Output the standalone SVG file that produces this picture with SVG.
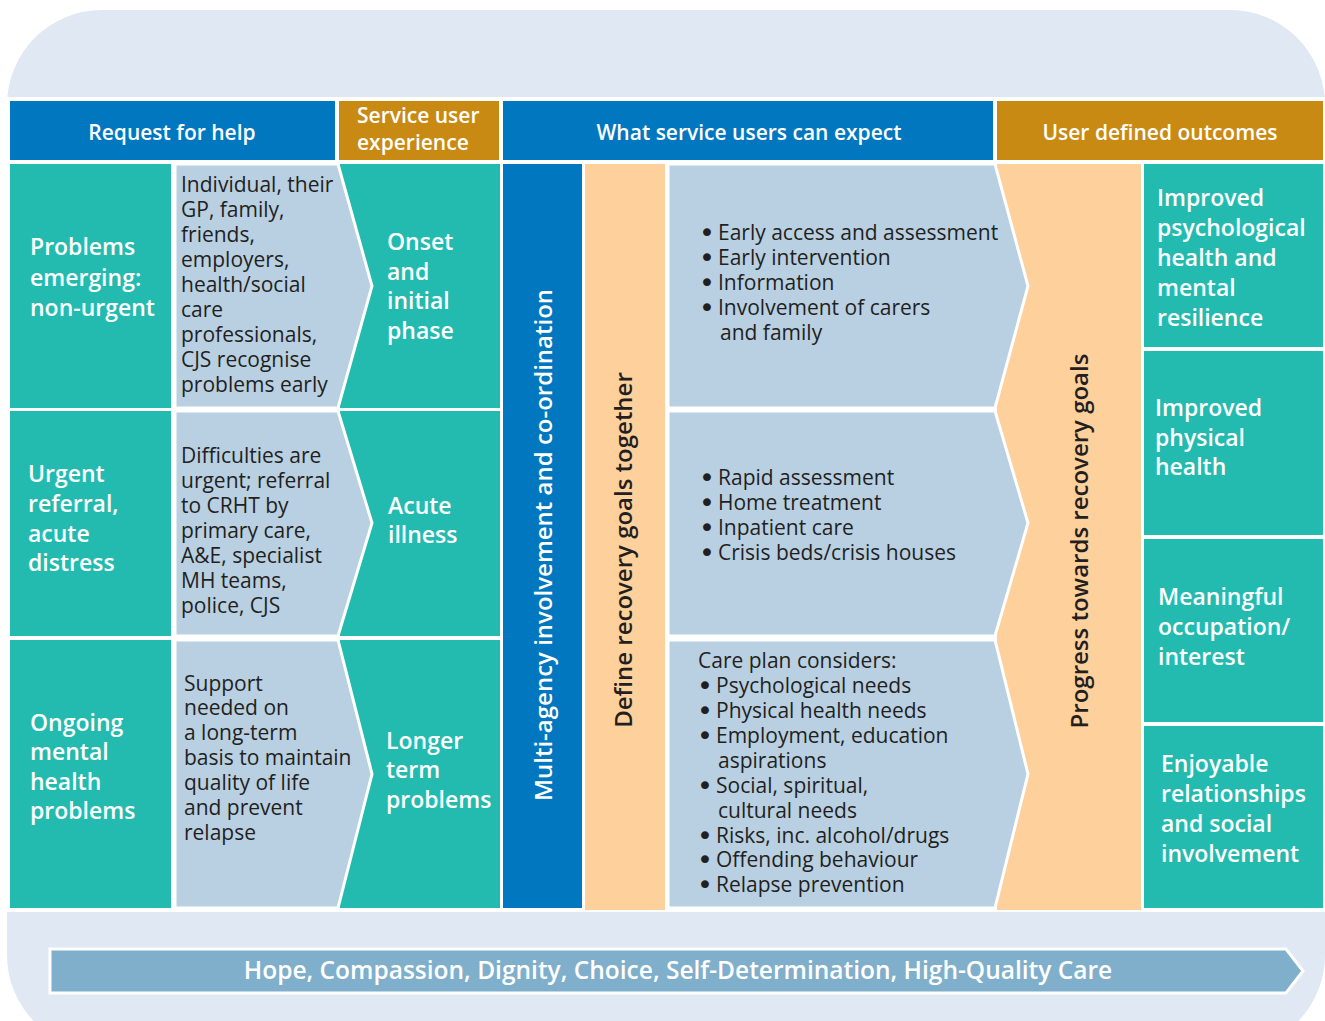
<svg xmlns="http://www.w3.org/2000/svg" width="1325" height="1021" viewBox="0 0 1325 1021">
<style>
.teal{fill:#23bbb0}
.blue{fill:#0077bf}
.gold{fill:#c98a14}
.lb{fill:#b8d0e2;stroke:#fff;stroke-width:3}
.peach{fill:#fdd09c}
.hd{font-family:"Open Sans","Noto Sans",sans-serif;font-weight:600;font-size:21px;fill:#fff}
.wt{font-family:"Open Sans","Noto Sans",sans-serif;font-weight:600;font-size:23px;fill:#fff}
.dt{font-family:"Open Sans","Noto Sans",sans-serif;font-weight:400;font-size:21px;fill:#231f20}
.bu{font-family:"DejaVu Sans",sans-serif;font-size:27px}
.vt{font-family:"Open Sans","Noto Sans",sans-serif;font-weight:600;font-size:24px}
.bn{font-family:"Open Sans","Noto Sans",sans-serif;font-weight:600;font-size:24.5px;fill:#fff}
</style>
<rect x="7" y="10" width="1318" height="1040" rx="95" fill="#e0e8f4"/>
<rect x="7" y="97" width="1318" height="815" fill="#fff"/>

<g id="headers">
<g id="h-request"><rect class="blue" x="10" y="101" width="325" height="59"/><text class="hd" x="172" y="140" text-anchor="middle">Request for help</text></g>
<g id="h-experience"><rect class="gold" x="339" y="101" width="160" height="59"/><text class="hd" x="357" y="123">Service user</text><text class="hd" x="357" y="150">experience</text></g>
<g id="h-expect"><rect class="blue" x="503" y="101" width="490" height="59"/><text class="hd" x="749" y="140" text-anchor="middle">What service users can expect</text></g>
<g id="h-outcomes"><rect class="gold" x="997" y="101" width="326" height="59"/><text class="hd" x="1160" y="140" text-anchor="middle">User defined outcomes</text></g>
</g>

<g id="col1">
<g id="c1r1"><rect class="teal" x="10" y="164" width="161" height="244"/><text class="wt"><tspan x="30" y="255">Problems</tspan><tspan x="30" y="286">emerging:</tspan><tspan x="30" y="316">non-urgent</tspan></text></g>
<g id="c1r2"><rect class="teal" x="10" y="411" width="161" height="225"/><text class="wt"><tspan x="28" y="482">Urgent</tspan><tspan x="28" y="512">referral,</tspan><tspan x="28" y="542">acute</tspan><tspan x="28" y="571">distress</tspan></text></g>
<g id="c1r3"><rect class="teal" x="10" y="640" width="161" height="268"/><text class="wt"><tspan x="30" y="731">Ongoing</tspan><tspan x="30" y="760">mental</tspan><tspan x="30" y="790">health</tspan><tspan x="30" y="819">problems</tspan></text></g>
</g>

<g id="col3">
<g id="c3r1"><rect class="teal" x="340" y="164" width="160" height="244"/><text class="wt"><tspan x="387" y="250">Onset</tspan><tspan x="387" y="280">and</tspan><tspan x="387" y="309">initial</tspan><tspan x="387" y="339">phase</tspan></text></g>
<g id="c3r2"><rect class="teal" x="340" y="411" width="160" height="225"/><text class="wt"><tspan x="388" y="514">Acute</tspan><tspan x="388" y="543">illness</tspan></text></g>
<g id="c3r3"><rect class="teal" x="340" y="640" width="160" height="268"/><text class="wt"><tspan x="386" y="749">Longer</tspan><tspan x="386" y="778">term</tspan><tspan x="386" y="808">problems</tspan></text></g>
</g>

<g id="col2">
<g id="c2r1"><polygon class="lb" points="175,164 338,164 372,286 338,408 175,408"/><text class="dt"><tspan x="181" y="192">Individual, their</tspan><tspan x="181" y="217">GP, family,</tspan><tspan x="181" y="242">friends,</tspan><tspan x="181" y="267">employers,</tspan><tspan x="181" y="292">health/social</tspan><tspan x="181" y="317">care</tspan><tspan x="181" y="342">professionals,</tspan><tspan x="181" y="367">CJS recognise</tspan><tspan x="181" y="392">problems early</tspan></text></g>
<g id="c2r2"><polygon class="lb" points="175,411 338,411 372,523 338,636 175,636"/><text class="dt"><tspan x="181" y="463">Difficulties are</tspan><tspan x="181" y="488">urgent; referral</tspan><tspan x="181" y="513">to CRHT by</tspan><tspan x="181" y="538">primary care,</tspan><tspan x="181" y="563">A&amp;E, specialist</tspan><tspan x="181" y="588">MH teams,</tspan><tspan x="181" y="613">police, CJS</tspan></text></g>
<g id="c2r3"><polygon class="lb" points="175,640 338,640 372,774 338,908 175,908"/><text class="dt"><tspan x="184" y="691">Support</tspan><tspan x="184" y="715">needed on</tspan><tspan x="184" y="740">a long-term</tspan><tspan x="184" y="765">basis to maintain</tspan><tspan x="184" y="790">quality of life</tspan><tspan x="184" y="815">and prevent</tspan><tspan x="184" y="840">relapse</tspan></text></g>
</g>

<g id="multi"><rect class="blue" x="503" y="164" width="79" height="744"/><text class="vt" fill="#fff" transform="translate(552,545) rotate(-90)" text-anchor="middle">Multi-agency involvement and co-ordination</text></g>
<g id="define"><rect class="peach" x="585" y="164" width="80" height="746"/><text class="vt" fill="#231f20" transform="translate(632,550) rotate(-90)" text-anchor="middle">Define recovery goals together</text></g>

<g id="progress"><rect class="peach" x="997" y="164" width="144" height="746"/><text class="vt" fill="#231f20" transform="translate(1088,541) rotate(-90)" text-anchor="middle">Progress towards recovery goals</text></g>

<g id="col6">
<g id="c6r1"><polygon class="lb" points="668,164 995,164 1028,286 995,408 668,408"/><text class="dt"><tspan class="bu" x="699" y="242">•</tspan><tspan x="718" y="240">Early access and assessment</tspan><tspan class="bu" x="699" y="267">•</tspan><tspan x="718" y="265">Early intervention</tspan><tspan class="bu" x="699" y="292">•</tspan><tspan x="718" y="290">Information</tspan><tspan class="bu" x="699" y="317">•</tspan><tspan x="718" y="315">Involvement of carers</tspan><tspan x="720" y="340">and family</tspan></text></g>
<g id="c6r2"><polygon class="lb" points="668,411 995,411 1028,523 995,636 668,636"/><text class="dt"><tspan class="bu" x="699" y="487">•</tspan><tspan x="718" y="485">Rapid assessment</tspan><tspan class="bu" x="699" y="512">•</tspan><tspan x="718" y="510">Home treatment</tspan><tspan class="bu" x="699" y="537">•</tspan><tspan x="718" y="535">Inpatient care</tspan><tspan class="bu" x="699" y="562">•</tspan><tspan x="718" y="560">Crisis beds/crisis houses</tspan></text></g>
<g id="c6r3"><polygon class="lb" points="668,640 995,640 1028,774 995,908 668,908"/><text class="dt"><tspan x="698" y="668">Care plan considers:</tspan><tspan class="bu" x="697" y="695">•</tspan><tspan x="716" y="693">Psychological needs</tspan><tspan class="bu" x="697" y="720">•</tspan><tspan x="716" y="718">Physical health needs</tspan><tspan class="bu" x="697" y="745">•</tspan><tspan x="716" y="743">Employment, education</tspan><tspan x="718" y="768">aspirations</tspan><tspan class="bu" x="697" y="795">•</tspan><tspan x="716" y="793">Social, spiritual,</tspan><tspan x="718" y="818">cultural needs</tspan><tspan class="bu" x="697" y="845">•</tspan><tspan x="716" y="843">Risks, inc. alcohol/drugs</tspan><tspan class="bu" x="697" y="869">•</tspan><tspan x="716" y="867">Offending behaviour</tspan><tspan class="bu" x="697" y="894">•</tspan><tspan x="716" y="892">Relapse prevention</tspan></text></g>
</g>

<g id="col8">
<g id="o1"><rect class="teal" x="1144" y="164" width="179" height="183"/><text class="wt"><tspan x="1157" y="206">Improved</tspan><tspan x="1157" y="236">psychological</tspan><tspan x="1157" y="266">health and</tspan><tspan x="1157" y="296">mental</tspan><tspan x="1157" y="326">resilience</tspan></text></g>
<g id="o2"><rect class="teal" x="1144" y="351" width="179" height="184"/><text class="wt"><tspan x="1155" y="416">Improved</tspan><tspan x="1155" y="446">physical</tspan><tspan x="1155" y="475">health</tspan></text></g>
<g id="o3"><rect class="teal" x="1144" y="539" width="179" height="183"/><text class="wt"><tspan x="1158" y="605">Meaningful</tspan><tspan x="1158" y="635">occupation/</tspan><tspan x="1158" y="665">interest</tspan></text></g>
<g id="o4"><rect class="teal" x="1144" y="726" width="179" height="182"/><text class="wt"><tspan x="1161" y="772">Enjoyable</tspan><tspan x="1161" y="802">relationships</tspan><tspan x="1161" y="832">and social</tspan><tspan x="1161" y="862">involvement</tspan></text></g>
</g>

<g id="banner"><polygon points="50,949 1286,949 1303,971 1286,993 50,993" fill="#7fafcb" stroke="#fff" stroke-width="3"/><text class="bn" x="678" y="979" text-anchor="middle">Hope, Compassion, Dignity, Choice, Self-Determination, High-Quality Care</text></g>
</svg>
